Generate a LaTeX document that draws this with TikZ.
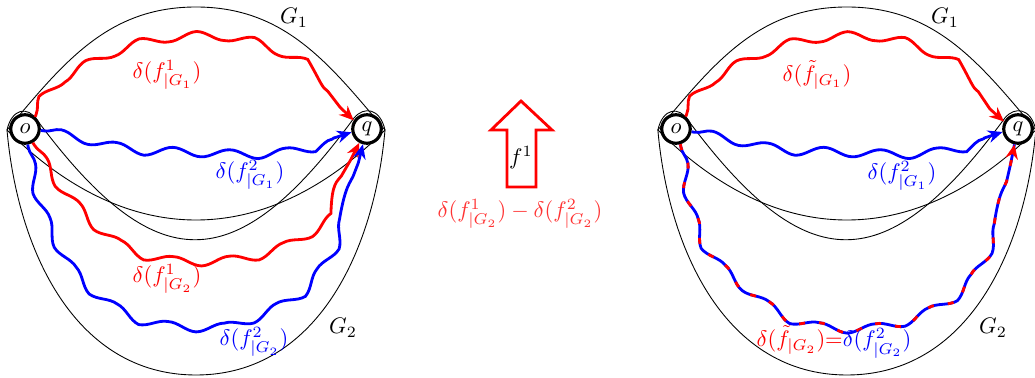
\documentclass[tikz,border=0pt]{standalone}
\usetikzlibrary{decorations.pathmorphing, arrows.meta}
\begin{document}
\begin{tikzpicture}[x=0.02cm, y=-0.02cm,
  region/.style={line width=0.5pt, black},
  vtx/.style={circle, draw, line width=1.8pt, fill=white, minimum size=0.57cm, inner sep=0pt},
  wave/.style={line width=1.6pt, decorate,
    decoration={snake, amplitude=0.085cm, segment length=1.14cm, post length=0.38cm, pre length=0.05cm}},
  tip/.style={-{Stealth[length=2.9mm, width=2.5mm]}},
  lbl/.style={inner sep=1pt, scale=1.28},
]
\useasboundingbox (0,0) rectangle (1035,378);
\newcommand\regioncurves{%
  \draw[region] (7,130) to[out=50, in=180] (196,7) to[out=0, in=130] (385,130);
  \draw[region] (7,130) .. controls (12,108) and (28,106) .. (37,120)
     .. controls (156,280) and (235,280) .. (354,118)
     .. controls (364,106) and (380,108) .. (385,130);
  \draw[region] (7,130) .. controls (127,250) and (265,250) .. (385,130);
  \draw[region] (7,130) to[out=-85, in=180] (196,375) to[out=0, in=-95] (385,130);
}
% ---------- left panel ----------
\regioncurves
\node[vtx] (o1) at (25,129) {\scalebox{1.28}{$o$}};
\node[vtx] (q1) at (367,129) {\scalebox{1.28}{$q$}};
\draw[wave, tip, red] (o1.50) to[out=70, in=210] (65,86) to[out=30, in=180] (200,48)
  to[out=0, in=155] (305,78) to[out=-25, in=140] (q1.147);
\draw[wave, tip, blue] (o1.-5) to[out=-10, in=180] (150,149) to[out=0, in=190] (290,147)
  to[out=10, in=200] (q1.-168);
\draw[wave, tip, red] (o1.-60) to[out=-60, in=135] (95,220) to[out=-40, in=180] (190,250)
  to[out=0, in=-145] (315,213) to[out=55, in=-115] (q1.-119);
\draw[wave, tip, blue] (o1.-80) to[out=-80, in=115] (50,220) to[out=-65, in=150] (120,298)
  to[out=-30, in=175] (195,314) to[out=-5, in=-155] (262,300) to[out=25, in=-130] (305,274)
  to[out=50, in=-105] (340,213) to[out=75, in=-100] (q1.-105);
\node[lbl, red] (l1) at (167,75) {$\delta(f^1_{|G_1})$};
\node[lbl, blue] (l2) at (250,175) {$\delta(f^2_{|G_1})$};
\node[lbl, red] (l3) at (167,279) {$\delta(f^1_{|G_2})$};
\node[lbl, blue] (l4) at (254,342) {$\delta(f^2_{|G_2})$};
\node[lbl] (g1a) at (294,18) {$G_1$};
\node[lbl] (g2a) at (343,328) {$G_2$};
% ---------- middle ----------
\draw[red, line width=1.6pt, line join=miter] (521,101) -- (552,130) -- (536,130) -- (536,187) -- (507,187) -- (507,130) -- (491,130) -- cycle;
\node[lbl] (f1) at (521,158) {$f^1$};
\node[lbl, red!80] (diff) at (520,214) {$\delta(f^1_{|G_2})-\delta(f^2_{|G_2})$};
% ---------- right panel ----------
\begin{scope}[xshift=13.02cm]
\regioncurves
\end{scope}
\node[vtx] (o2) at (676,129) {\scalebox{1.28}{$o$}};
\node[vtx] (q2) at (1018,129) {\scalebox{1.28}{$q$}};
\draw[wave, tip, red] (o2.52) to[out=70, in=210] (716,86) to[out=30, in=180] (851,48)
  to[out=0, in=155] (956,78) to[out=-25, in=145] (q2.152);
\draw[wave, tip, blue] (o2.-10) to[out=-10, in=180] (801,149) to[out=0, in=190] (941,147)
  to[out=10, in=200] (q2.-169);
\draw[wave, blue] (o2.-74) to[out=-80, in=110] (695,215) to[out=-70, in=140] (758,286)
  to[out=-40, in=180] (853,315) to[out=0, in=-155] (940,292) to[out=30, in=-110] (995,215)
  to[out=70, in=-100] (q2.-103);
\draw[wave, tip, red, dash pattern=on 3.4pt off 8pt] (o2.-74) to[out=-80, in=110] (695,215) to[out=-70, in=140] (758,286)
  to[out=-40, in=180] (853,315) to[out=0, in=-155] (940,292) to[out=30, in=-110] (995,215)
  to[out=70, in=-100] (q2.-103);
\node[lbl, red] (r1) at (817,75) {$\delta(\tilde f_{|G_1})$};
\node[lbl, blue] (r2) at (902,176) {$\delta(f^2_{|G_1})$};
\node[lbl] (g1b) at (945,18) {$G_1$};
\node[lbl] (g2b) at (993,328) {$G_2$};
\node[lbl] (r3) at (834,342) {\color{red}$\delta(\tilde f_{|G_2})$$=$\color{blue}$\delta(f^2_{|G_2})$};
\end{tikzpicture}
\end{document}
